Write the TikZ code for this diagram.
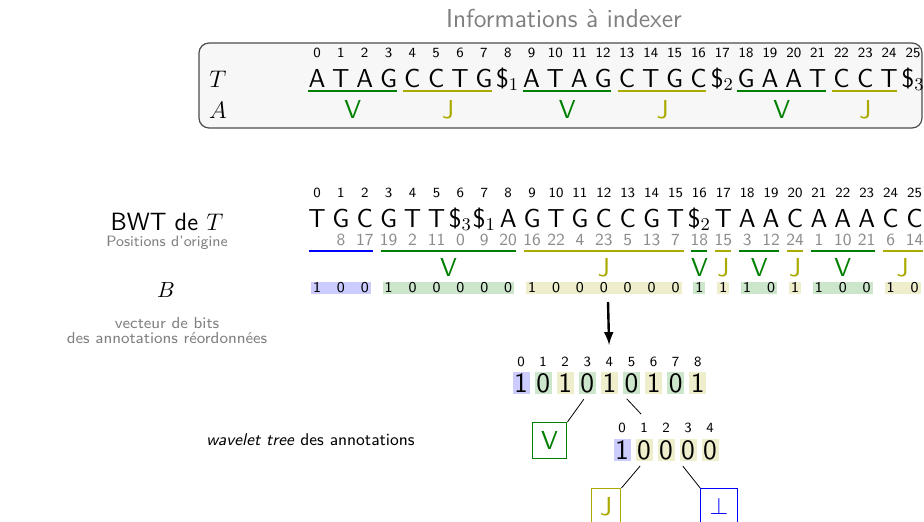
\documentclass[tikz,border=0pt]{standalone}
\usepackage{fontspec}
\usetikzlibrary{positioning, calc}
\definecolor{vgreen}{RGB}{0,128,0}
\definecolor{jolive}{RGB}{170,170,0}
\definecolor{nblue}{RGB}{0,0,255}
\newcommand{\fsz}[1]{\fontsize{#1}{#1}\selectfont}

\begin{document}
\begin{tikzpicture}[x=0.5pt, y=-0.5pt,
    every node/.style={font=\sffamily, inner sep=0pt},
    idx/.style={anchor=base, font=\sffamily\fsz{7}},
    chr/.style={anchor=base, font=\sffamily\fsz{13}},
    ulab/.style={anchor=base, font=\sffamily\fsz{13}},
    orig/.style={anchor=base, font=\sffamily\fsz{8.5}, text=black!45},
    bit/.style={anchor=base, font=\sffamily\fsz{7.5}},
    ul/.style={line width=1pt},
    wbit/.style={minimum width=8.5pt, minimum height=11pt, font=\sffamily\fsz{14}},
    leaf/.style={draw, fill=white, inner sep=4.5pt, anchor=north, font=\sffamily\fsz{13}, line width=0.5pt}]
  \useasboundingbox (0,0) rectangle (924,521);

  \node[draw=black!70, fill=black!3, rounded corners=5pt, minimum width=361.5pt, minimum height=42.5pt, line width=0.6pt] (tbox) at (560.5,85.5) {};
  \node[anchor=base, font=\sffamily\fsz{13}, text=black!50] (title) at (564,27) {Informations à indexer};
  \node[anchor=base, font=\fsz{13}] (lt) at (218,87) {$T$};
  \node[anchor=base, font=\fsz{13}] (la) at (218,118) {$A$};

  \foreach \c [count=\i from 0] in {A,T,A,G,C,C,T,G,{\$$_1$},A,T,A,G,C,T,G,C,{\$$_2$},G,A,A,T,C,C,T,{\$$_3$}} {
    \node[chr] (t\i) at (317+23.84*\i,87) {\c};
    \node[idx] (ti\i) at (317+23.84*\i,57) {\i};
  }
  \foreach \a/\b/\col/\lab in {0/3/vgreen/V,4/7/jolive/J,9/12/vgreen/V,13/16/jolive/J,18/21/vgreen/V,22/24/jolive/J} {
    \draw[ul, draw=\col] ($(t\a.base)+(-9,4)$) -- ($(t\b.base)+(8,4)$);
    \node[ulab, text=\col] (tl\a) at ($(t\a.base)!0.5!(t\b.base)+(0,31)$) {\lab};
  }

  \node[anchor=base, font=\sffamily\fsz{12.5}] (lbwt) at (167,230) {BWT de $T$};
  \node[anchor=base, font=\sffamily\fsz{7.5}, text=black!50] (lpos) at (167,246.5) {Positions d'origine};
  \node[anchor=base, font=\fsz{11}] (lb) at (166,297) {$B$};
  \node[anchor=base, font=\sffamily\fsz{8}, text=black!50] (lvec) at (167,328) {vecteur de bits};
  \node[anchor=base, font=\sffamily\fsz{8}, text=black!50] (lann) at (167,343) {des annotations réordonnées};

  \foreach \a/\b/\col in {0/2/nblue,3/8/vgreen,9/15/jolive,16/16/vgreen,17/17/jolive,18/19/vgreen,20/20/jolive,21/23/vgreen,24/25/jolive}
    \fill[fill=\col!20] (317+23.9*\a-6,282) rectangle (317+23.9*\b+6,294);
  \foreach \c [count=\i from 0] in {T,G,C,G,T,T,{\$$_3$},{\$$_1$},A,G,T,G,C,C,G,T,{\$$_2$},T,A,A,C,A,A,A,C,C} {
    \node[chr] (s\i) at (317+23.9*\i,227) {\c};
    \node[idx] (si\i) at (317+23.9*\i,197.5) {\i};
  }
  \foreach \p [count=\i from 0] in {{},8,17,19,2,11,0,9,20,16,22,4,23,5,13,7,18,15,3,12,24,1,10,21,6,14}
    \node[orig] (p\i) at (317+23.9*\i,245) {\p};
  \foreach \v [count=\i from 0] in {1,0,0,1,0,0,0,0,0,1,0,0,0,0,0,0,1,1,1,0,1,1,0,0,1,0}
    \node[bit] (b\i) at (317+23.9*\i,292) {\v};
  \foreach \a/\b/\col/\lab in {0/2/nblue/{},3/8/vgreen/V,9/15/jolive/J,16/16/vgreen/V,17/17/jolive/J,18/19/vgreen/V,20/20/jolive/J,21/23/vgreen/V,24/25/jolive/J} {
    \draw[ul, draw=\col] ($(s\a.base)+(-8,24)$) -- ($(s\b.base)+(8,24)$);
    \node[ulab, text=\col] (sl\a) at ($(s\a.base)!0.5!(s\b.base)+(0,49)$) {\lab};
  }

  \foreach \v/\col [count=\i from 0] in {1/nblue,0/vgreen,1/jolive,0/vgreen,1/jolive,0/vgreen,1/jolive,0/vgreen,1/jolive} {
    \node[wbit, fill=\col!20] (w\i) at (521+22.1*\i,383) {\v};
    \node[idx] (wi\i) at (521+22.1*\i,366.5) {\i};
  }
  \foreach \v/\col [count=\i from 0] in {1/nblue,0/jolive,0/jolive,0/jolive,0/jolive} {
    \node[wbit, fill=\col!20] (u\i) at (622+22*\i,450) {\v};
    \node[idx] (ui\i) at (622+22*\i,432.5) {\i};
  }
  \node[leaf, draw=vgreen, text=vgreen] (lv) at (549.5,422) {V};
  \node[leaf, draw=jolive, text=jolive] (lj) at (606,488) {J};
  \node[leaf, draw=nblue, text=nblue] (lbot) at (719,488) {$\bot$};
  \node[anchor=base east, font=\sffamily\fsz{8.5}] (lwt) at (415,445) {\textit{wavelet tree} des annotations};

  \coordinate (atop) at (608,302);
  \coordinate (wu) at (641,414);
  \draw[-latex, line width=1.2pt, shorten >=6pt] (atop) -- (wi4.north);
  \draw[shorten <=3pt] (w3.south) -- (lv.north east);
  \draw[shorten <=3pt] (w5.south west) -- (wu);
  \draw[shorten <=3pt] (u1.south) -- (lj.north east);
  \draw[shorten <=3pt] (u3.south west) -- (lbot.north west);
\end{tikzpicture}
\end{document}
